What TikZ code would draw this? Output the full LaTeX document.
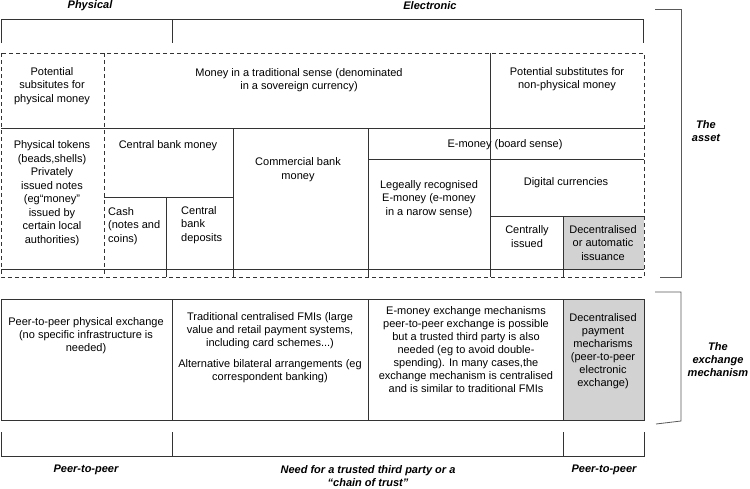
\documentclass[tikz,border=0pt]{standalone}
\usepackage{fontspec}
\setmainfont{Liberation Sans}
\begin{document}
\begin{tikzpicture}[x=1pt,y=-1pt,
  ln/.style={draw=black!80,line width=0.8pt},
  dln/.style={draw=black!80,line width=0.8pt,dash pattern=on 4pt off 3pt},
  br/.style={draw=black!65,line width=0.8pt},
  txt/.style={inner sep=0pt,align=center,font=\fontsize{11}{13.5}\selectfont},
  txtl/.style={inner sep=0pt,align=left,anchor=west,font=\fontsize{11}{13.5}\selectfont},
  txte/.style={inner sep=0pt,align=center,font=\fontsize{11}{13}\selectfont},
  lab/.style={inner sep=0pt,align=center,font=\fontsize{11}{13}\selectfont\bfseries\itshape},
  shade/.style={fill=gray!35}]
\useasboundingbox (0,0) rectangle (750,488);

% top bracket
\draw[ln] (1,43) -- (1,19) -- (643,19) -- (643,43);
\draw[ln] (172,19) -- (172,43);
\node[lab] (phys) at (90,6) {Physical};
\node[lab] (elec) at (430,6) {Electronic};

% asset grid
\fill[shade] (563,216) rectangle (644,269);
\draw[ln] (1,128) -- (644,128);
\draw[ln] (1,269) -- (644,269);
\draw[ln] (490,53) -- (490,277);
\draw[ln] (368,128) -- (368,277);
\draw[ln] (233,128) -- (233,277);
\draw[ln] (104,197) -- (233,197);
\draw[ln] (166,197) -- (166,277);
\draw[ln] (368,159) -- (644,159);
\draw[ln] (490,216) -- (644,216);
\draw[ln] (563,216) -- (563,277);
\draw[dln] (1,53) rectangle (644,277);
\draw[dln] (104,53) -- (104,277);

\node[txt] (potphys) at (52,86) {Potential\\subsitutes for\\physical money};
\node[txt] (trad) at (299,80) {Money in a traditional sense (denominated\\in a sovereign currency)};
\node[txt] (potnon) at (567,79) {Potential substitutes for\\non-physical money};
\node[txt] (tokens) at (52,193) {Physical tokens\\(beads,shells)\\Privately\\issued notes\\(eg“money”\\issued by\\certain local\\authorities)};
\node[txt] (cbm) at (168,146) {Central bank money};
\node[txtl] (cash) at (108,226) {Cash\\(notes and\\coins)};
\node[txtl] (cbd) at (181,225) {Central\\bank\\deposits};
\node[txt] (comm) at (298,169.5) {Commercial bank\\money};
\node[txt] (emoney) at (505,145) {E-money (board sense)};
\node[txt] (legal) at (429,199) {Legeally recognised\\E-money (e-money\\in a narow sense)};
\node[txt] (digital) at (566,183) {Digital currencies};
\node[txt] (central) at (527,236.5) {Centrally\\issued};
\node[txt] (decent) at (603,243) {Decentralised\\or automatic\\issuance};

% asset bracket
\draw[br] (655,9) -- (681,9) -- (681,277) -- (660,277);
\node[lab] (asset) at (706,131) {The\\asset};

% exchange row
\fill[shade] (563,299) rectangle (644,420);
\draw[ln] (1,299) rectangle (644,420);
\draw[ln] (172,299) -- (172,420);
\draw[ln] (368,299) -- (368,420);
\draw[ln] (563,299) -- (563,420);
\node[txte] (p2p) at (86,336) {Peer-to-peer physical exchange\\(no specific infrastructure is\\needed)};
\node[txte] (fmi) at (270,331) {Traditional centralised FMIs (large\\value and retail payment systems,\\including card schemes...)};
\node[txte] (bilat) at (270,371) {Alternative bilateral arrangements (eg\\correspondent banking)};
\node[txte] (emx) at (466,350) {E-money exchange mechanisms\\peer-to-peer exchange is possible\\but a trusted third party is also\\needed (eg to avoid double-\\spending). In many cases,the\\exchange mechanism is centralised\\and is similar to traditional FMIs};
\node[txte] (decpay) at (603,351) {Decentralised\\payment\\mecharisms\\(peer-to-peer\\electronic\\exchange)};

% exchange bracket
\draw[br] (655,292) -- (681,292) -- (681,421) -- (656,424);
\node[lab] (exch) at (718,360) {The\\exchange\\mechanism};

% bottom bracket
\draw[ln] (1,432) -- (1,456) -- (644,456) -- (644,432);
\draw[ln] (172,432) -- (172,456);
\draw[ln] (563,432) -- (563,456);
\node[lab] (bp2p) at (86,470) {Peer-to-peer};
\node[lab] (trust) at (368,476) {Need for a trusted third party or a\\“chain of trust”};
\node[lab] (bp2p2) at (604,470) {Peer-to-peer};
\end{tikzpicture}
\end{document}
